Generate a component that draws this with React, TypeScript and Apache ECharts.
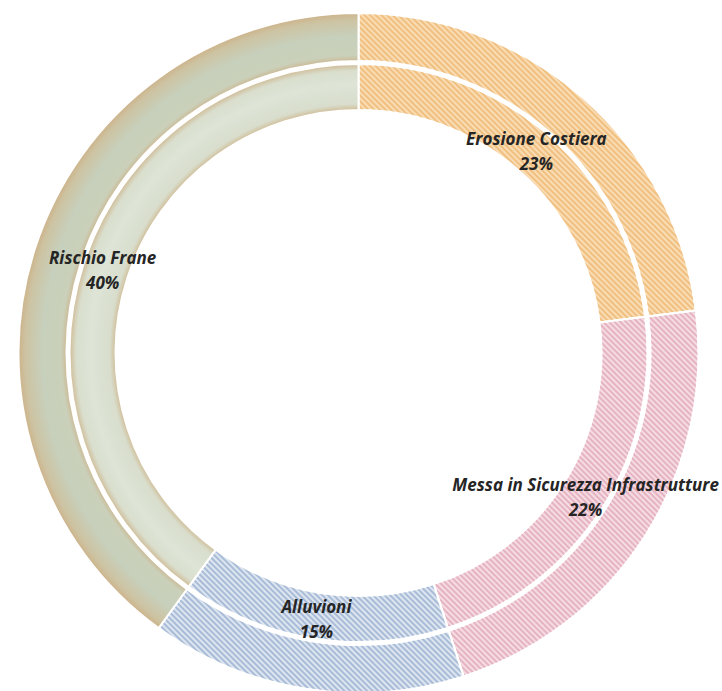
import React, { useEffect, useRef } from "react";
import * as echarts from "echarts";

const categories = ["Erosione Costiera", "Messa in Sicurezza Infrastrutture", "Alluvioni", "Rischio Frane"];
const outerValues = [23, 22, 15, 40];
const innerValues = [23, 22, 15, 40];

const CX = 358.5;
const CY = 353;
const R = 340;

const hatch = (base: string, stripe: string) => ({
  color: base,
  decal: {
    symbol: "rect",
    symbolSize: 1,
    dashArrayX: [1, 0],
    dashArrayY: [1.6, 1.8],
    rotation: Math.PI / 4,
    color: stripe,
  },
});

const radial = (stops: [number, string][]) => ({
  type: "radial",
  x: CX,
  y: CY,
  r: R,
  global: true,
  colorStops: stops.map(([offset, color]) => ({ offset, color })),
});

const outerStyles = [
  hatch("#fadcb2", "rgba(236,180,110,0.7)"),
  hatch("#f6dbe3", "rgba(222,164,182,0.7)"),
  hatch("#dde5f0", "rgba(152,174,206,0.75)"),
  {
    color: radial([
      [0.855, "#ccb58e"],
      [0.875, "#cad0b9"],
      [0.93, "#c7d0bc"],
      [0.98, "#cdc3a2"],
      [1, "#cdb38a"],
    ]),
  },
];

const innerStyles = [
  hatch("#fadcb2", "rgba(236,180,110,0.7)"),
  hatch("#f6dbe3", "rgba(222,164,182,0.7)"),
  hatch("#dde5f0", "rgba(152,174,206,0.75)"),
  {
    color: radial([
      [0.712, "#d0b991"],
      [0.732, "#d8ddcc"],
      [0.79, "#dee5d7"],
      [0.83, "#d9decd"],
      [0.852, "#cfb891"],
    ]),
  },
];

export default function App() {
  const ref = useRef<HTMLDivElement>(null);
  useEffect(() => {
    document.body.style.margin = "0";
    const chart = echarts.init(ref.current!, null, { renderer: "svg" });
    chart.setOption({
      animation: false,
      backgroundColor: "#ffffff",
      series: [
        {
          type: "pie",
          center: [CX, CY],
          radius: [292, R],
          startAngle: 90,
          clockwise: true,
          silent: true,
          label: { show: false },
          labelLine: { show: false },
          itemStyle: { borderColor: "#ffffff", borderWidth: 2 },
          data: categories.map((name, i) => ({
            name,
            value: outerValues[i],
            itemStyle: outerStyles[i],
          })),
        },
        {
          type: "pie",
          center: [CX, CY],
          radius: [243, 289],
          startAngle: 90,
          clockwise: true,
          silent: true,
          label: {
            show: true,
            position: "inside",
            formatter: "{b}\n{c}%",
            fontFamily: "Open Sans",
            fontStyle: "italic",
            fontWeight: "bold",
            fontSize: 17,
            lineHeight: 25,
            color: "#252525",
            align: "center",
          },
          labelLine: { show: false },
          itemStyle: { borderColor: "#ffffff", borderWidth: 2 },
          data: categories.map((name, i) => ({
            name,
            value: innerValues[i],
            itemStyle: innerStyles[i],
          })),
        },
      ],
    });
    return () => chart.dispose();
  }, []);
  return <div ref={ref} style={{ width: 722, height: 691 }} />;
}
